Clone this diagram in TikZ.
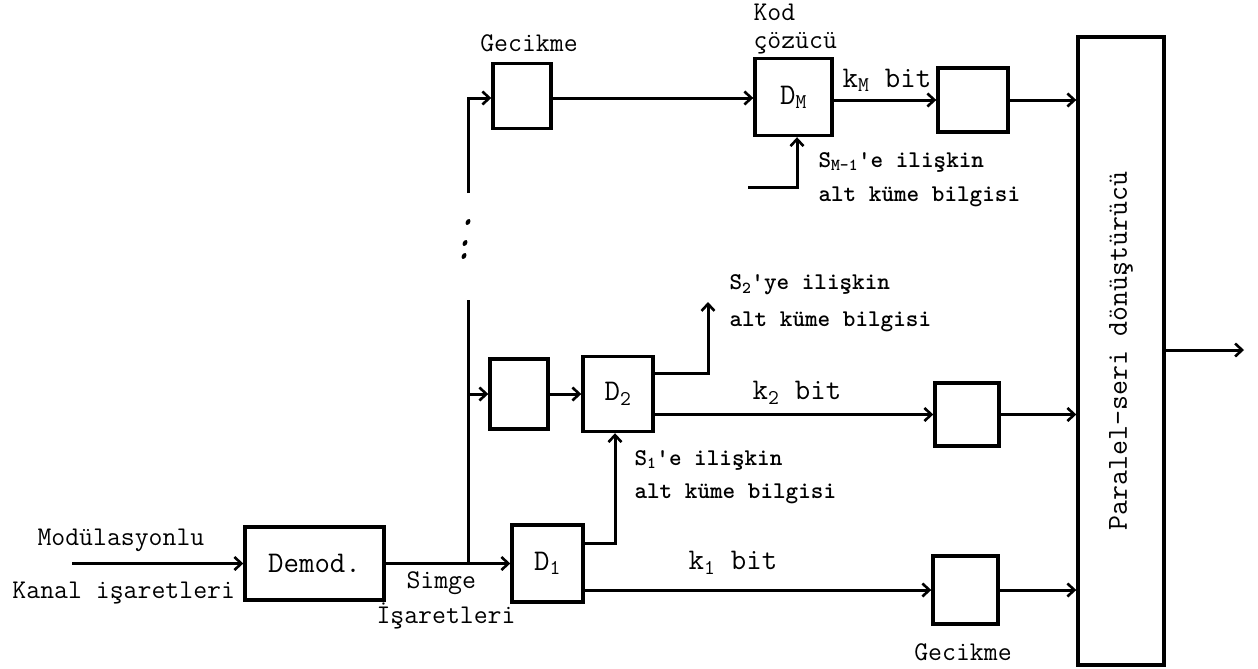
\documentclass[tikz,border=0pt]{standalone}
\usepackage{fontspec}
\usetikzlibrary{arrows.meta}
\newcommand\lblfont{\ttfamily\fontsize{27}{30}\selectfont}
\newcommand\bigfont{\ttfamily\fontsize{30}{33}\selectfont}
\newcommand\subfont{\ttfamily\bfseries\fontsize{24}{27}\selectfont}
\begin{document}
\begin{tikzpicture}[x=1pt,y=-1pt,
  line width=3pt,
  blk/.style={draw, line width=3.4pt, inner sep=0pt, font=\bigfont},
  arr/.style={-{Straight Barb[length=7pt,width=13pt,line width=2.6pt]}},
  lbl/.style={inner sep=0pt, font=\lblfont},
  klbl/.style={inner sep=0pt, font=\bigfont},
  slbl/.style={inner sep=0pt, font=\subfont, anchor=west}
]
\useasboundingbox (0,0) rectangle (1258,669);

% boxes
\node[blk, minimum width=139pt, minimum height=73pt] (demod) at (314.5,563.5) {Demod.};
\node[blk, minimum width=71pt, minimum height=77pt] (d1) at (547.5,563.5) {D\textsubscript{1}};
\node[blk, minimum width=58pt, minimum height=70pt] (m) at (519,394) {};
\node[blk, minimum width=70pt, minimum height=75pt] (d2) at (618,394) {D\textsubscript{2}};
\node[blk, minimum width=58pt, minimum height=65pt] (g) at (522,96) {};
\node[blk, minimum width=77pt, minimum height=77pt] (dm) at (793.5,97) {D\textsubscript{M}};
\node[blk, minimum width=70pt, minimum height=64pt] (km) at (973,100) {};
\node[blk, minimum width=64pt, minimum height=63pt] (k2b) at (967,414.5) {};
\node[blk, minimum width=65pt, minimum height=68pt] (k1b) at (965.5,590) {};
\node[blk, minimum width=86pt, minimum height=628pt] (conv) at (1121,351) {};
\node[lbl, rotate=90, font=\ttfamily\fontsize{29}{32}\selectfont] (convt) at (1121,351) {Paralel-seri dönüştürücü};

% coordinates
\coordinate (in) at (72,563.5);
\coordinate (j) at (468,563.5);
\coordinate (vt1) at (468,300);
\coordinate (vt2) at (468,193);
\coordinate (lvlM) at (0,98);
\coordinate (smin) at (748,187);
\coordinate (s2tip) at (708,302);
\coordinate (out) at (1244,350);

% connectors
\draw[arr] (in) -- (demod.west);
\draw[arr] (demod.east) -- (d1.west);
\draw (j) -- (vt1);
\draw[arr] (j |- m.west) -- (m.west);
\draw[arr] (m.east) -- (d2.west);
\draw[arr] (vt2) |- (g.west |- lvlM);
\draw[arr] (g.east |- lvlM) -- (dm.west |- lvlM);
\draw[arr] (smin) -| ([xshift=3.5pt]dm.south);
\draw[arr] (dm.east |- km.west) -- (km.west);
\draw[arr] (km.east) -- (conv.west |- km.east);
\draw[arr] ([yshift=21pt]d2.east) -| (s2tip);
\draw[arr] (d2.east |- k2b.west) -- (k2b.west);
\draw[arr] (k2b.east) -- (conv.west |- k2b.east);
\draw[arr] ([yshift=20.5pt]d1.east) -| ([xshift=-3pt]d2.south);
\draw[arr] (d1.east |- k1b.west) -- (k1b.west);
\draw[arr] (k1b.east) -- (conv.west |- k1b.east);
\draw[arr] (conv.east |- out) -- (out);

% dots
\fill[rotate around={60:(468,222)}] (468,222) ellipse (3.2pt and 2.2pt);
\fill[rotate around={60:(465,243)}] (465,243) ellipse (3.2pt and 2.2pt);
\fill[rotate around={60:(464,256)}] (464,256) ellipse (3.2pt and 2.2pt);

% labels
\node[lbl, anchor=west] (t1) at (36,540) {Modülasyonlu};
\node[lbl, anchor=west] (t2) at (11,593) {Kanal işaretleri};
\node[lbl, anchor=west] (t3) at (405,583) {Simge};
\node[lbl, anchor=west] (t4) at (375,616) {İşaretleri};
\node[klbl] (k1t) at (733,563) {k\textsubscript{1} bit};
\node[klbl] (k2t) at (797,393) {k\textsubscript{2} bit};
\node[klbl] (kmt) at (887,80) {k\textsubscript{M} bit};
\node[lbl] (gt1) at (529,43) {Gecikme};
\node[lbl] (gt2) at (963,652) {Gecikme};
\node[lbl, anchor=west] (kod1) at (752,12) {Kod};
\node[lbl, anchor=west] (kod2) at (752,43) {çözücü};
\node[slbl] (sm1) at (817,162) {S\textsubscript{M-1}'e ilişkin};
\node[slbl] (sm2) at (817,197) {alt küme bilgisi};
\node[slbl] (s21) at (728,285) {S\textsubscript{2}'ye ilişkin};
\node[slbl] (s22) at (728,322) {alt küme bilgisi};
\node[slbl] (s11) at (633,460) {S\textsubscript{1}'e ilişkin};
\node[slbl] (s12) at (633,494) {alt küme bilgisi};
\end{tikzpicture}
\end{document}
